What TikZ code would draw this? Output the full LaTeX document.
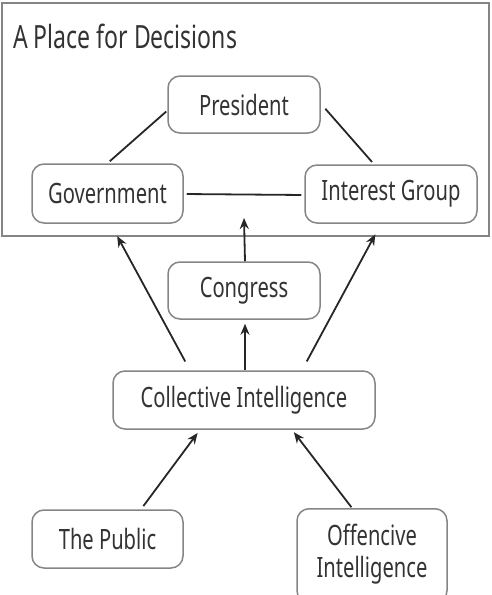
\documentclass[tikz,border=0pt]{standalone}
\usepackage{fontspec}
\setmainfont{Noto Sans}[FakeStretch=0.72]
\usetikzlibrary{arrows.meta}
\definecolor{boxline}{HTML}{858585}
\definecolor{txt}{HTML}{333333}
\tikzset{
  box/.style={draw=boxline, line width=1.5pt, rounded corners=12pt, text=txt,
    font=\fontsize{28}{32}\selectfont, inner sep=0pt, align=center},
  link/.style={draw=black!85, line width=1.8pt},
  arr/.style={link, -{Stealth[length=11pt,width=9pt]}},
}
\begin{document}
\begin{tikzpicture}[x=1pt,y=-1pt]
\useasboundingbox (0,0) rectangle (491,595);
\clip (0,0) rectangle (491,595);
\node[draw=boxline, line width=2pt, minimum width=487pt, minimum height=233pt, inner sep=0pt] (frame) at (245.5,119.5) {};
\node[anchor=base west, text=txt, font=\fontsize{32}{36}\selectfont, inner sep=0pt] (title) at (13,48) {A Place for Decisions};
\node[box, minimum width=152pt, minimum height=57pt] (pres) at (244,104.5) {President};
\node[box, minimum width=151pt, minimum height=59pt] (gov) at (107.5,193.5) {Government};
\node[box, minimum width=172pt, minimum height=58pt] (ig) at (391,194) {Interest Group};
\node[box, minimum width=152pt, minimum height=57pt] (cong) at (244,290.5) {Congress};
\node[box, minimum width=262pt, minimum height=58pt] (ci) at (244,400) {Collective Intelligence};
\node[box, minimum width=151pt, minimum height=58pt] (pub) at (107.5,539) {The Public};
\node[box, minimum width=150pt, minimum height=94pt, anchor=north] (off) at (372,508) {};
\node[text=txt, font=\fontsize{28}{32}\selectfont, align=center, inner sep=0pt, anchor=base] (offtxt) at (372,577) {Offencive\\Intelligence};
\coordinate (mid) at (244,218);
% links inside the frame
\draw[link, shorten <=3pt] (gov.north) -- ([yshift=-7pt,xshift=-1pt]pres.west);
\draw[link, shorten <=7pt, shorten >=3pt] ([yshift=1pt]pres.east) -- ([xshift=-17pt]ig.north);
\draw[link, shorten <=3pt, shorten >=3pt] ([yshift=-0.5pt]gov.east) -- ([yshift=-1pt]ig.west);
% arrows from collective intelligence
\draw[arr, shorten <=10pt, shorten >=14pt] ([xshift=-54pt]ci.north) -- ([xshift=3pt]gov.south);
\draw[arr, shorten >=4pt] ([xshift=1pt]ci.north) -- ([xshift=1pt]cong.south);
\draw[arr] ([xshift=1pt]cong.north) -- (mid);
\draw[arr, shorten <=10pt, shorten >=12pt] ([xshift=58pt]ci.north) -- ([xshift=-10pt]ig.south);
% arrows into collective intelligence
\draw[arr, shorten <=4pt, shorten >=4pt] ([xshift=33.5pt]pub.north) -- ([xshift=-44pt]ci.south);
\draw[arr, shorten <=1pt, shorten >=3pt] ([xshift=-20pt]off.north) -- ([xshift=48pt]ci.south);
\end{tikzpicture}
\end{document}
